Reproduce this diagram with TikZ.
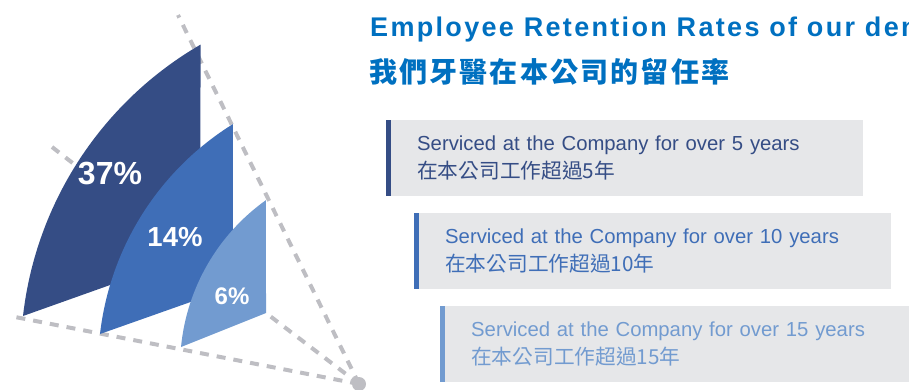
\documentclass[tikz,border=0pt]{standalone}
\usepackage{fontspec}
\setmainfont{Liberation Sans}
\newfontfamily\cjk{Noto Sans CJK TC}
\newfontfamily\titlefont[LetterSpace=8.6]{Liberation Sans}
\newfontfamily\cjktitle[LetterSpace=7.8]{Noto Sans CJK TC}
\usepackage{tikz}
\definecolor{titleblue}{RGB}{0,112,192}
\definecolor{navy}{RGB}{53,77,133}
\definecolor{midblue}{RGB}{63,110,183}
\definecolor{lightblue}{RGB}{114,155,208}
\definecolor{boxgray}{RGB}{230,231,233}
\definecolor{guidegray}{RGB}{190,190,195}
\newcommand{\cjkline}[1]{{\cjk\fontsize{20.7}{28}\selectfont #1}}
\tikzstyle{guide} = [draw=guidegray, line width=4pt, dash pattern=on 9pt off 8pt]
\tikzstyle{pct} = [text=white, inner sep=0pt]
\tikzstyle{band} = [rectangle, fill=boxgray, anchor=north west, inner ysep=0pt, inner xsep=31pt, text width=415pt, minimum height=76pt, align=left, font=\fontsize{20.3}{28}\selectfont]

\begin{document}
\begin{tikzpicture}[x=1pt, y=-1pt]
				\clip (0,0) rectangle (909,389);
				% Place guide points
				\coordinate (apex) at (359,384);
				\coordinate (topend) at (178,15);
				\coordinate (leftend) at (10,316);
				\coordinate (stubend) at (52,147);
				\coordinate (stubin) at (110,192);
				\coordinate (corner6) at (266,313);
				% Draw guides
				\path [guide] (apex) -- (topend);
				\path [guide] (apex) -- (leftend);
				\path [guide] (stubend) -- (stubin);
				\path [guide] (apex) -- (corner6);
				% Draw sails
				\fill [navy] (23,316) arc [start angle=186.5, end angle=239.9, radius=361] -- (200,253) -- cycle;
				\fill [midblue] (100,334) arc [start angle=186.6, end angle=238.1, radius=286] -- (233,287) -- cycle;
				\fill [lightblue] (181,347) arc [start angle=185.6, end angle=234.5, radius=205] -- (corner6) -- cycle;
				\fill [guidegray] (apex) circle (7);
				% Place labels
				\node [pct, font=\bfseries\fontsize{32}{32}\selectfont] (p37) at (110,174) {37\%};
				\node [pct, font=\bfseries\fontsize{27.5}{28}\selectfont] (p14) at (175,237) {14\%};
				\node [pct, font=\bfseries\fontsize{24}{24}\selectfont] (p6) at (232,296) {6\%};
				% Place title
				\node [anchor=base west, inner sep=0pt, text=titleblue, font=\titlefont\bfseries\fontsize{27}{30}\selectfont] (title) at (370,36) {Employee Retention Rates of our den};
				\node [anchor=base west, inner sep=0pt, text=titleblue, font=\cjktitle\bfseries\fontsize{28}{30}\selectfont] (subtitle) at (369,82) {我們牙醫在本公司的留任率};
				% Place bands
				\node [band, text=navy] (band5) at (386,120) {Serviced at the Company for over 5 years\\\cjkline{在本公司工作超過5年}};
				\node [band, text=midblue] (band10) at (414,213) {Serviced at the Company for over 10 years\\\cjkline{在本公司工作超過10年}};
				\node [band, text=lightblue] (band15) at (440,306) {Serviced at the Company for over 15 years\\\cjkline{在本公司工作超過15年}};
				\fill [navy] (band5.north west) rectangle ([xshift=5pt]band5.south west);
				\fill [midblue] (band10.north west) rectangle ([xshift=5pt]band10.south west);
				\fill [lightblue] (band15.north west) rectangle ([xshift=5pt]band15.south west);
\end{tikzpicture}
\end{document}
